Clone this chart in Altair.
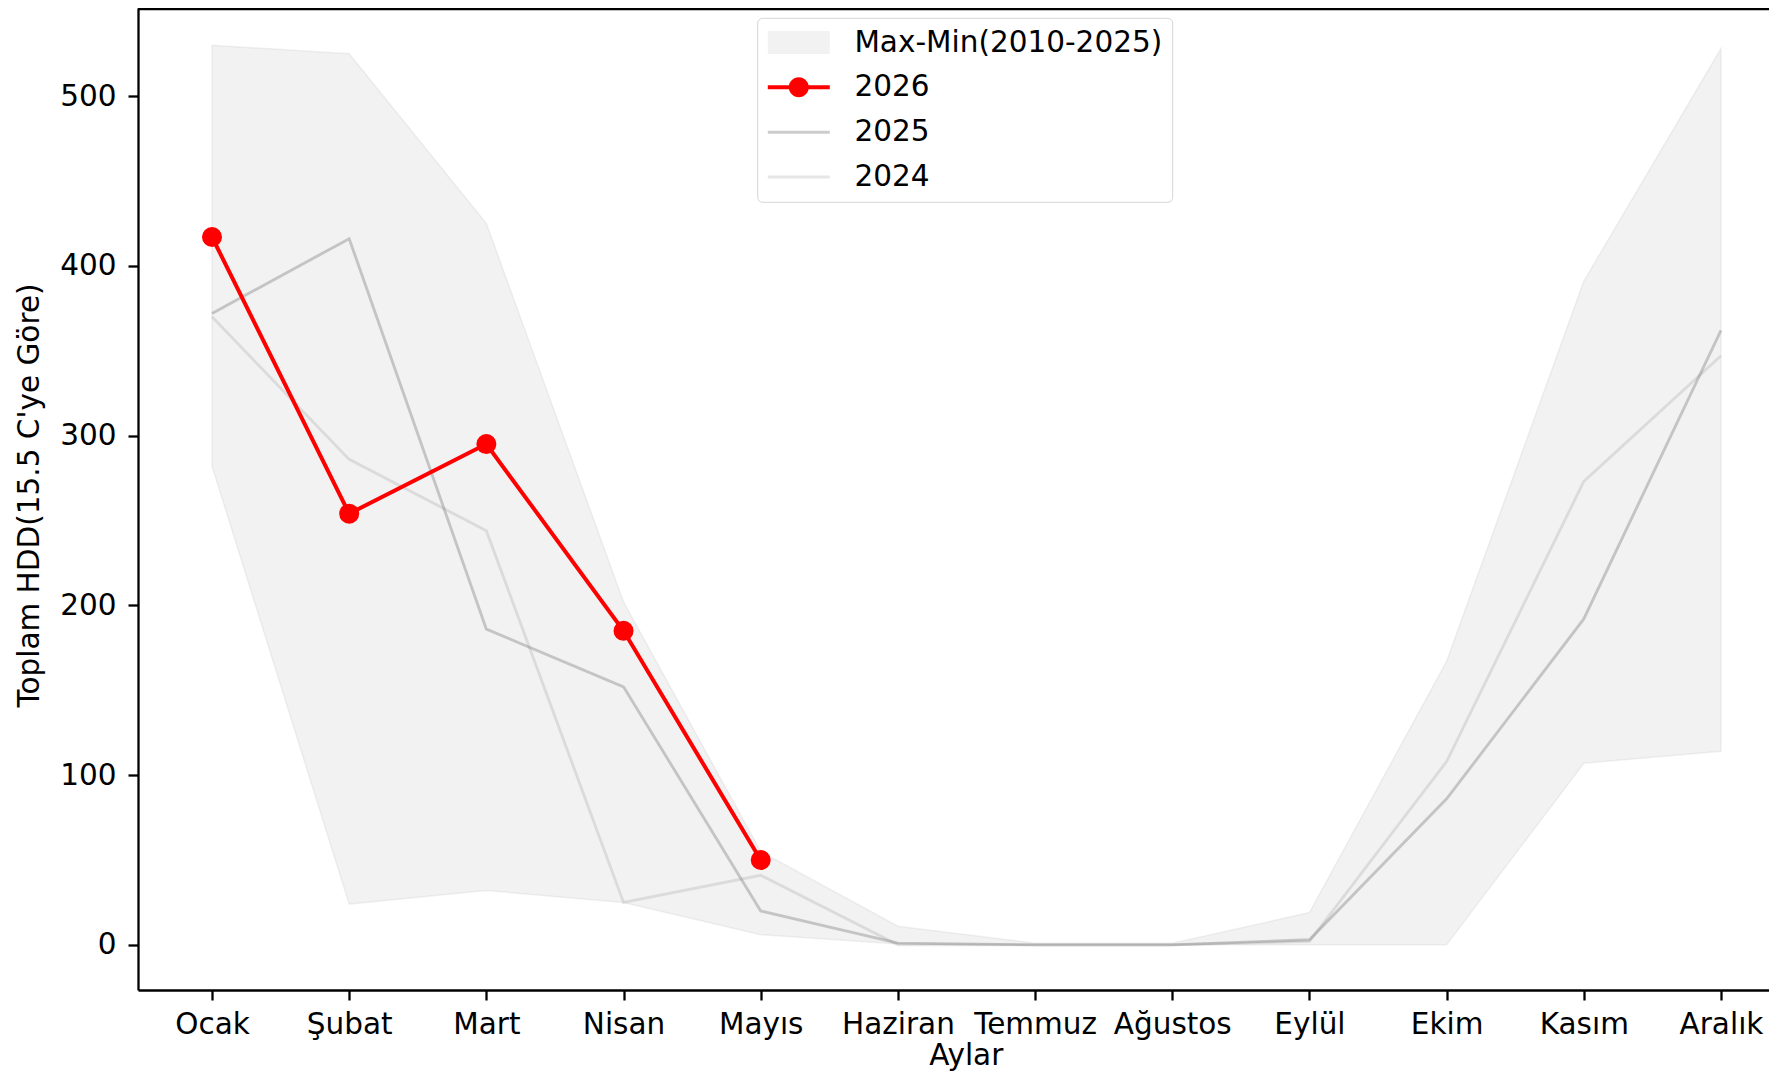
import altair as alt
import pandas as pd

# ---------------- data ----------------
MONTHS = ["Ocak", "Şubat", "Mart", "Nisan", "Mayıs", "Haziran",
          "Temmuz", "Ağustos", "Eylül", "Ekim", "Kasım", "Aralık"]
BAND_MAX = [530, 525, 425, 202, 55, 11, 1, 1, 19, 167, 391, 528]
BAND_MIN = [282, 24, 32, 25, 6, 0.5, 0, 0, 0, 0, 107, 114]
HDD_2026 = [417, 254, 295, 185, 50]
HDD_2025 = [372, 416, 186, 152, 20, 1, 0, 0, 3, 86, 192, 362]
HDD_2024 = [370, 286, 244, 25, 41, 0, 0, 0, 2, 108, 273, 347]
SERIES = ["Max-Min(2010-2025)", "2026", "2025", "2024"]
Y_TICKS = [0, 100, 200, 300, 400, 500]

# ---------------- tables ----------------
band_df = pd.DataFrame({"i": list(range(12)), "ay": MONTHS,
                        "max": BAND_MAX, "min": BAND_MIN})
df24 = pd.DataFrame({"i": list(range(12)), "hdd": HDD_2024})
df25 = pd.DataFrame({"i": list(range(12)), "hdd": HDD_2025})
df26 = pd.DataFrame({"i": list(range(len(HDD_2026))), "hdd": HDD_2026})
legend_df = pd.DataFrame({"seri": SERIES})

FONT = "DejaVu Sans"
FS = 29.5
W, H = 1631, 982

label_expr = "[" + ",".join("'" + m + "'" for m in MONTHS) + "][datum.value]"

x_scale = alt.Scale(domain=[-0.5394, 11.350], nice=False, zero=False)
y_scale = alt.Scale(domain=[-26.6, 551.9], nice=False, zero=False)

x_axis = alt.Axis(values=list(range(12)), labelExpr=label_expr, title="Aylar",
                  titleX=827.8, titleY=74, titleBaseline="alphabetic",
                  titleAlign="center", labelPadding=10)
y_axis = alt.Axis(values=Y_TICKS, title="Toplam HDD(15.5 C'ye Göre)",
                  titleX=-108.8, titleY=487, titleAngle=270,
                  titleBaseline="middle", titleAlign="center", labelPadding=12)


def xe():
    return alt.X("i:Q", scale=x_scale, axis=x_axis)


def ye(field):
    return alt.Y(field + ":Q", scale=y_scale, axis=y_axis)


band = alt.Chart(band_df).mark_area(
    fill="gray", fillOpacity=0.1, stroke="gray", strokeOpacity=0.1, strokeWidth=1.5
).encode(x=xe(), y=ye("max"), y2="min:Q")

line24 = alt.Chart(df24).mark_line(color="gray", opacity=0.2, strokeWidth=2.85).encode(
    x=xe(), y=ye("hdd"))
line25 = alt.Chart(df25).mark_line(color="gray", opacity=0.4, strokeWidth=2.85).encode(
    x=xe(), y=ye("hdd"))
line26 = alt.Chart(df26).mark_line(color="red", strokeWidth=4).encode(
    x=xe(), y=ye("hdd"))
pts26 = alt.Chart(df26).mark_circle(color="red", size=400, opacity=1).encode(
    x=xe(), y=ye("hdd"))

top_spine = alt.Chart(pd.DataFrame({"s": [0]})).mark_rule(
    color="black", strokeWidth=2.3
).encode(x=alt.value(0), x2=alt.value(W), y=alt.value(1.1))

# legend carried by an invisible layer (filled custom symbols)
SHAPES = [
    "M-3.1,-1.15H3.1V1.15H-3.1Z",
    "M-3.1,-0.2H3.1V0.2H-3.1ZM1,0A1,1,0,1,1,-1,0A1,1,0,1,1,1,0Z",
    "M-3.1,-0.15H3.1V0.15H-3.1Z",
    "M-3.1,-0.15H3.1V0.15H-3.1Z",
]
COLORS = ["#f2f2f2", "red", "#cccccc", "#e6e6e6"]

LEG = alt.Legend(title=None, orient="none", legendX=619.2, legendY=9.8,
                 symbolSize=400, symbolStrokeWidth=0,
                 symbolFillColor="transparent",
                 labelFont=FONT, labelFontSize=FS, labelColor="black",
                 labelOffset=40.85, symbolOffset=16.85, rowPadding=13.8,
                 padding=10, strokeColor="#d6d6d6", fillColor="white",
                 cornerRadius=5, labelLimit=600)

legend_layer = alt.Chart(legend_df).mark_point(filled=True, opacity=0).encode(
    color=alt.Color("seri:N", scale=alt.Scale(domain=SERIES, range=COLORS), legend=LEG),
    shape=alt.Shape("seri:N", scale=alt.Scale(domain=SERIES, range=SHAPES), legend=LEG),
)

chart = alt.layer(
    band, line24, line25, line26, pts26, top_spine, legend_layer
).properties(
    width=W, height=H,
    autosize=alt.AutoSizeParams(type="none"),
    padding={"left": 130, "top": 0, "right": 0, "bottom": 81},
    background="white",
).configure_view(
    stroke=None
).configure_axis(
    grid=False,
    domainColor="black", domainWidth=2.3,
    tickColor="black", tickWidth=2.3, tickSize=10,
    labelFont=FONT, labelFontSize=FS, labelColor="black",
    titleFont=FONT, titleFontSize=FS, titleColor="black", titleFontWeight="normal",
)

chart.save("out.html", embed_options={"renderer": "svg", "actions": False})
